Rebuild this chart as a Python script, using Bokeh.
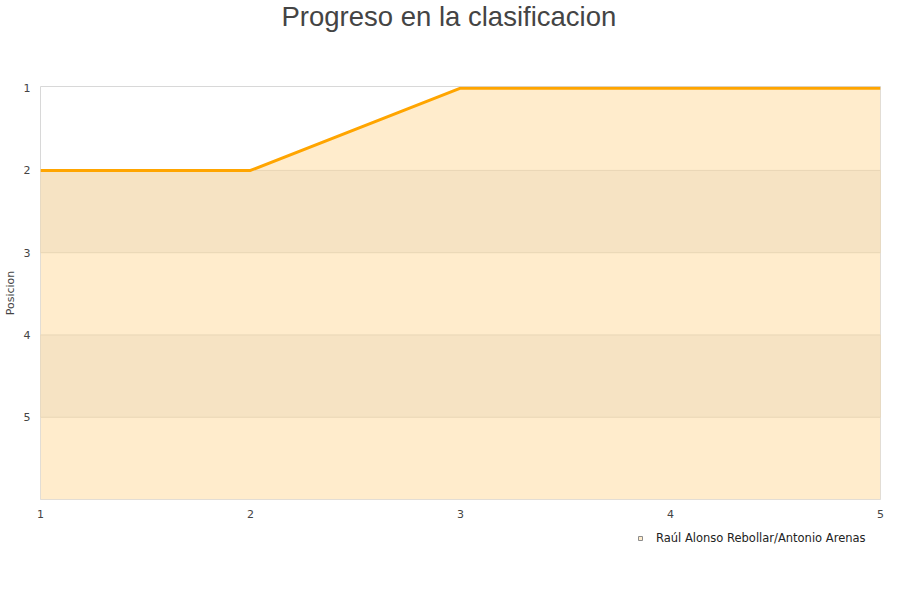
from bokeh.plotting import figure
from bokeh.models import Range1d, FixedTicker, Legend, LegendItem
from bokeh.layouts import column
from bokeh.embed import file_html
from bokeh.resources import INLINE

# Data
jornadas = [1, 2, 3, 4, 5]
posicion = [2, 2, 1, 1, 1]
pareja = "Raúl Alonso Rebollar/Antonio Arenas"
titulo = "Progreso en la clasificacion"
y_ticks = [1, 2, 3, 4, 5]
x_ticks = [1, 2, 3, 4, 5]
band_bottoms = [2, 4]
band_tops = [3, 5]
y_bottom = 6

FILL = "#FFECCC"
BAND = "#F6E3C3"
GRID = "#E8D6B6"
ORANGE = "#FFA500"
TXT = "#444444"


def blank(fig):
    fig.axis.visible = False
    fig.grid.visible = False
    fig.outline_line_color = None
    fig.background_fill_color = "white"
    fig.border_fill_color = "white"


# Title strip
p0 = figure(width=884, height=40, output_backend="svg", toolbar_location=None,
            x_range=Range1d(0, 1), y_range=Range1d(0, 1),
            min_border_left=0, min_border_right=0,
            min_border_top=0, min_border_bottom=0)
blank(p0)
p0.title.text = titulo
p0.title.align = "left"
p0.title.offset = 241
p0.title.vertical_align = "top"
p0.title.standoff = 0
p0.title.text_font = "Liberation Sans"
p0.title.text_font_size = "27.5px"
p0.title.text_font_style = "normal"
p0.title.text_color = TXT

# Main chart
p = figure(width=884, height=480, output_backend="svg", toolbar_location=None,
           x_range=Range1d(min(jornadas), max(jornadas)),
           y_range=Range1d(y_bottom, 0.98),
           min_border_left=40, min_border_right=4,
           min_border_top=46, min_border_bottom=20)

p.outline_line_color = "#D8D8D8"
p.outline_line_width = 1
p.xgrid.visible = False
p.ygrid.visible = False
p.background_fill_color = "white"
p.border_fill_color = "white"

area = p.varea(x=jornadas, y1=posicion, y2=[y_bottom] * len(jornadas),
               fill_color=FILL)
p.quad(left=min(jornadas), right=max(jornadas), bottom=band_bottoms, top=band_tops,
       fill_color=BAND, line_color=GRID, line_width=1)
p.line(x=jornadas, y=posicion, line_color=ORANGE, line_width=3)

for ax in (p.xaxis[0], p.yaxis[0]):
    ax.axis_line_color = None
    ax.major_tick_line_color = None
    ax.minor_tick_line_color = None
    ax.major_tick_out = 0
    ax.major_tick_in = 0
    ax.minor_tick_out = 0
    ax.major_label_text_font = "DejaVu Sans"
    ax.major_label_text_font_size = "11px"
    ax.major_label_text_color = TXT
    ax.major_label_standoff = 10

p.xaxis.ticker = FixedTicker(ticks=x_ticks)
p.yaxis.ticker = FixedTicker(ticks=y_ticks)
p.yaxis.axis_label = "Posicion"
p.yaxis.axis_label_text_font = "DejaVu Sans"
p.yaxis.axis_label_text_font_size = "11px"
p.yaxis.axis_label_text_font_style = "normal"
p.yaxis.axis_label_text_color = TXT
p.yaxis.axis_label_standoff = 4

# Legend strip below the chart
p2 = figure(width=884, height=64, output_backend="svg", toolbar_location=None,
            x_range=Range1d(0, 1), y_range=Range1d(0, 1),
            min_border_left=0, min_border_right=0,
            min_border_top=0, min_border_bottom=0)
blank(p2)

icon = p2.scatter(x=[jornadas[0]], y=[posicion[0]], marker="square", size=9,
                  fill_color=FILL, line_color="#8C8C8C", line_width=1)

legend = Legend(items=[LegendItem(label=pareja, renderers=[icon])],
                location=(595, 39), orientation="horizontal",
                margin=0, padding=4, spacing=0,
                glyph_width=10, glyph_height=12, label_height=12,
                label_standoff=11,
                label_text_font="DejaVu Sans", label_text_font_size="11.5px",
                label_text_color="#222222",
                border_line_color=None, background_fill_alpha=0)
p2.add_layout(legend, "center")

layout = column(p0, p, p2, spacing=0)

open("out.html", "w").write(file_html(layout, INLINE))
